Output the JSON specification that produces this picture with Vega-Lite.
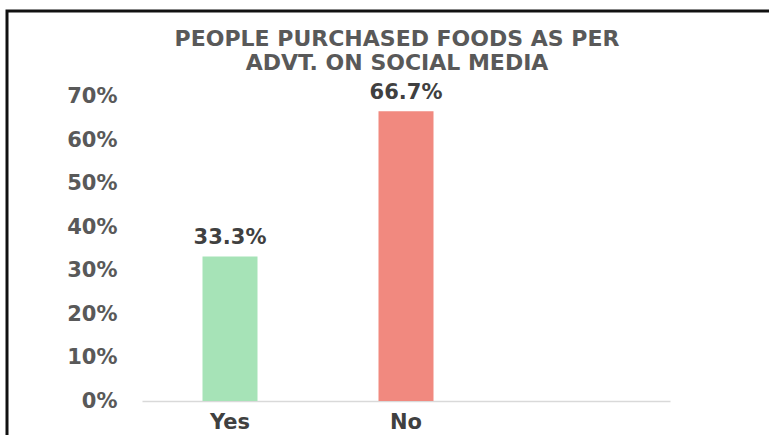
{
  "$schema": "https://vega.github.io/schema/vega-lite/v6.json",
  "autosize": {"type": "none"},
  "padding": {"left": 7, "top": 11, "right": -28, "bottom": -6},
  "width": 790,
  "height": 430,
  "background": "white",
  "config": {
    "view": {"stroke": "#111111", "strokeWidth": 3},
    "font": "DejaVu Sans"
  },
  "title": {
    "text": ["PEOPLE PURCHASED FOODS AS PER", "ADVT. ON SOCIAL MEDIA"],
    "anchor": "middle",
    "frame": "group",
    "offset": -64,
    "dx": -5,
    "fontSize": 22,
    "fontWeight": "bold",
    "color": "#595959",
    "lineHeight": 24,
    "font": "DejaVu Sans"
  },
  "data": {
    "values": [
      {"answer": "Yes", "share": 0.333},
      {"answer": "No", "share": 0.667}
    ]
  },
  "encoding": {
    "x": {
      "field": "answer",
      "type": "nominal",
      "sort": null,
      "scale": {"domain": ["Yes", "No", ""], "range": [135, 663], "paddingInner": 0.6875, "paddingOuter": 0.34375},
      "axis": {
        "title": null,
        "orient": "bottom",
        "offset": -40,
        "labelAngle": 0,
        "ticks": false,
        "domainColor": "#d9d9d9",
        "domainWidth": 1.5,
        "labelFontSize": 21,
        "labelFontWeight": "bold",
        "labelColor": "#404040",
        "labelPadding": 10,
        "labelFont": "DejaVu Sans"
      }
    },
    "y": {
      "field": "share",
      "type": "quantitative",
      "scale": {"domain": [-0.0921, 0.898], "nice": false, "zero": false},
      "axis": {
        "title": null,
        "orient": "left",
        "offset": -110,
        "values": [0, 0.1, 0.2, 0.3, 0.4, 0.5, 0.6, 0.7],
        "format": ".0%",
        "domain": false,
        "ticks": false,
        "grid": false,
        "labelPadding": 0,
        "labelFontSize": 21,
        "labelFontWeight": "bold",
        "labelColor": "#595959",
        "labelFont": "DejaVu Sans"
      }
    }
  },
  "layer": [
    {
      "mark": {"type": "bar"},
      "encoding": {
        "y2": {"datum": 0},
        "color": {
          "field": "answer",
          "type": "nominal",
          "scale": {"domain": ["Yes", "No"], "range": ["#a6e3b7", "#f1897f"]},
          "legend": null
        }
      }
    },
    {
      "mark": {"type": "text", "baseline": "alphabetic", "dy": -12, "fontSize": 21, "fontWeight": "bold", "color": "#404040", "font": "DejaVu Sans"},
      "encoding": {
        "text": {"field": "share", "type": "quantitative", "format": ".1%"}
      }
    }
  ]
}
